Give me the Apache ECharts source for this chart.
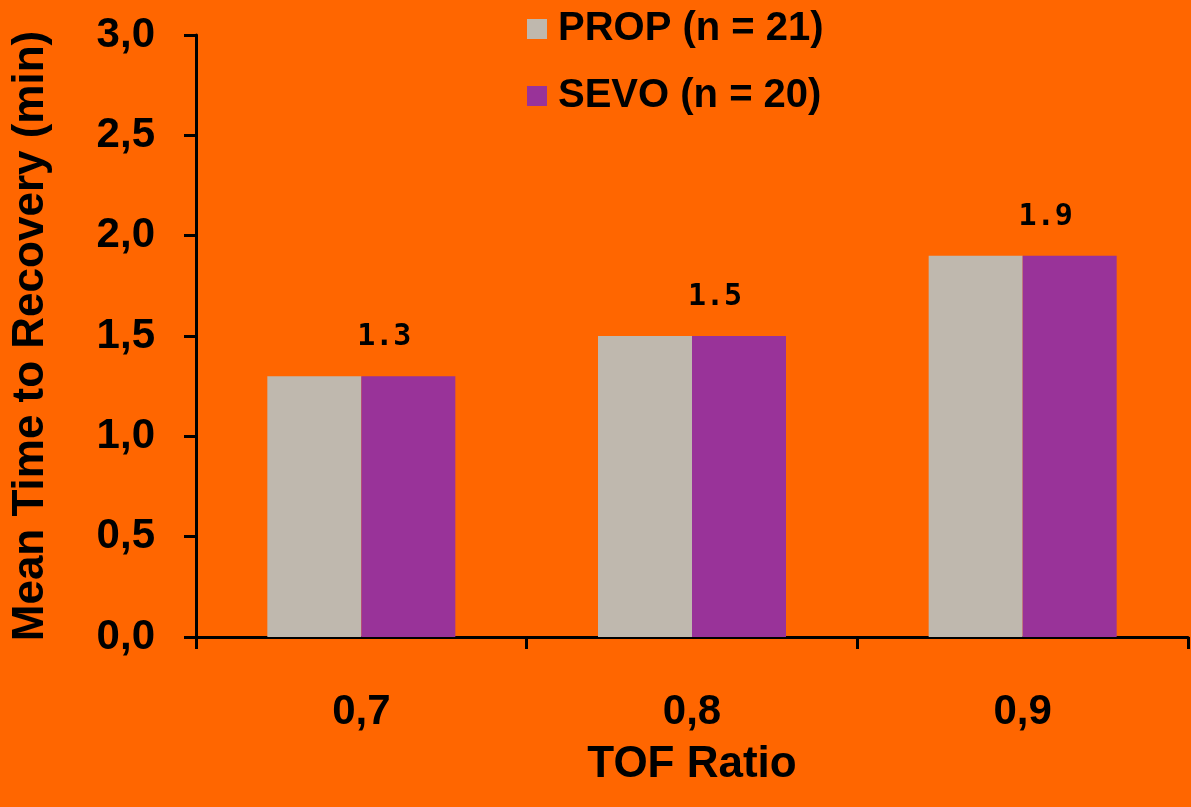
<!DOCTYPE html>
<html>
<head>
<meta charset="utf-8">
<script src="https://cdn.jsdelivr.net/npm/echarts@6/dist/echarts.min.js"></script>
<style>
  html, body { margin: 0; padding: 0; background: #FF6600; }
  #chart { width: 1191px; height: 807px; }
</style>
</head>
<body>
<div id="chart"></div>
<script>
// TOF ratio categories and mean recovery times per anaesthetic group
const categories = ['0,7', '0,8', '0,9'];
const propValues = [1.3, 1.5, 1.9];
const sevoValues = [1.3, 1.5, 1.9];
const seriesNames = ['PROP (n = 21)', 'SEVO (n = 20)'];
const yTicks = { min: 0, max: 3, interval: 0.5 };

const axisText = { color: '#000', fontFamily: 'Liberation Sans, Arial, sans-serif', fontWeight: 'bold' };

const chart = echarts.init(document.getElementById('chart'), null, { renderer: 'canvas' });
chart.setOption({
  backgroundColor: '#FF6600',
  animation: false,
  grid: { left: 196, right: 3, top: 35, bottom: 170, containLabel: false, outerBoundsMode: 'none' },
  legend: {
    orient: 'vertical',
    left: 522,
    top: 4,
    itemWidth: 20,
    itemHeight: 20,
    itemGap: 27,
    icon: 'rect',
    textStyle: Object.assign({ fontSize: 40, lineHeight: 40, padding: [0, 0, 0, 6] }, axisText),
    data: seriesNames
  },
  xAxis: {
    type: 'category',
    data: categories,
    name: 'TOF Ratio',
    nameLocation: 'middle',
    nameGap: 106,
    nameTextStyle: Object.assign({ fontSize: 44 }, axisText),
    axisLine: { lineStyle: { color: '#000', width: 3 } },
    axisTick: { show: true, length: 12, alignWithLabel: false, lineStyle: { color: '#000', width: 3 } },
    axisLabel: Object.assign({ fontSize: 42, margin: 54 }, axisText)
  },
  yAxis: {
    type: 'value',
    min: yTicks.min,
    max: yTicks.max,
    interval: yTicks.interval,
    name: 'Mean Time to Recovery (min)',
    nameLocation: 'middle',
    nameGap: 143,
    nameRotate: 90,
    nameTextStyle: Object.assign({ fontSize: 44 }, axisText),
    axisLine: { show: true, lineStyle: { color: '#000', width: 3 } },
    axisTick: { show: true, length: 12, lineStyle: { color: '#000', width: 3 } },
    splitLine: { show: false },
    axisLabel: Object.assign({
      fontSize: 42,
      margin: 41,
      formatter: v => v.toFixed(1).replace('.', ',')
    }, axisText)
  },
  series: [
    {
      name: seriesNames[0],
      type: 'bar',
      data: propValues,
      barWidth: 94,
      barGap: '0%',
      itemStyle: { color: '#BFB8AE' }
    },
    {
      name: seriesNames[1],
      type: 'bar',
      data: sevoValues,
      barWidth: 94,
      barGap: '0%',
      itemStyle: { color: '#993399' },
      label: {
        show: true,
        position: 'top',
        distance: 24,
        offset: [-24, 0],
        formatter: p => p.value.toFixed(1),
        color: '#000',
        fontFamily: 'DejaVu Sans Mono, monospace',
        fontWeight: 'bold',
        fontSize: 30
      }
    }
  ]
});
</script>
</body>
</html>
